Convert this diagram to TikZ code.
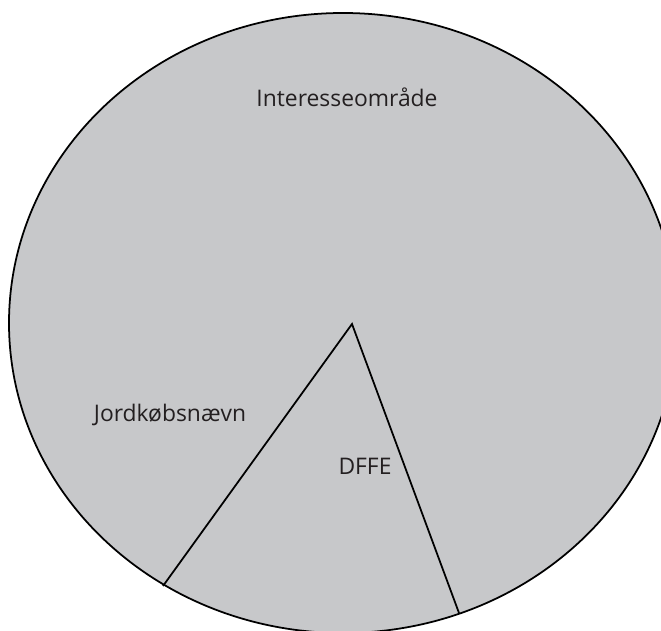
\documentclass[tikz,border=0pt]{standalone}
\usepackage{fontspec}
\setmainfont{Open Sans}
\definecolor{areagray}{RGB}{199,200,202}
\definecolor{labelgray}{RGB}{35,31,32}
\begin{document}
\begin{tikzpicture}[x={(0.01cm,0cm)},y={(0cm,-0.01cm)},every node/.style={font=\fontsize{6.5}{8}\selectfont, text=labelgray, inner sep=0pt}]
\useasboundingbox (0,0) rectangle (661,631);
\clip (0,0) rectangle (661,631);
\draw[fill=areagray,line width=0.5pt] (343,323) ellipse [x radius=334, y radius=310];
\coordinate (apex) at (352,324);
\coordinate (rimleft) at (163,586);
\coordinate (rimright) at (459,613);
\draw[line width=0.5pt] (rimleft) -- (apex) -- (rimright);
\node (interesse) at (347,97) {Interesseområde};
\node (jordkob) at (170,415) {Jordkøbsnævn};
\node (dffe) at (365,466) {DFFE};
\end{tikzpicture}
\end{document}
